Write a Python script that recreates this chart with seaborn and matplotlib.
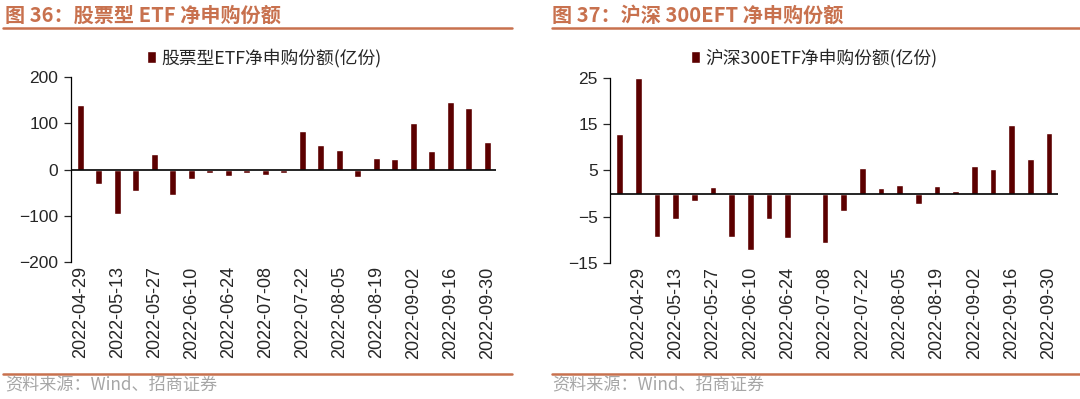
import matplotlib
matplotlib.use("Agg")
import matplotlib.pyplot as plt
from matplotlib.lines import Line2D
import seaborn as sns

# Data
dates_etf = ["2022-04-29", "2022-05-06", "2022-05-13", "2022-05-20", "2022-05-27", "2022-06-03",
             "2022-06-10", "2022-06-17", "2022-06-24", "2022-07-01", "2022-07-08", "2022-07-15",
             "2022-07-22", "2022-07-29", "2022-08-05", "2022-08-12", "2022-08-19", "2022-08-26",
             "2022-09-02", "2022-09-09", "2022-09-16", "2022-09-23", "2022-09-30"]
etf_net = [139, -32, -96, -47, 34, -56, -21, -8, -14, -8, -11, -8,
           84, 53, 42, -17, 26, 22, 100, 40, 147, 134, 59]

dates_300 = ["2022-04-22"] + dates_etf
hs300_net = [12.8, 25.0, -9.3, -5.4, -1.6, 1.4, -9.5, -12.3, -5.6, -9.7, -0.2, -10.7,
             -3.7, 5.6, 1.2, 1.9, -2.2, 1.6, 0.6, 6.0, 5.2, 14.7, 7.5, 13.0]

title_left = "图 36：股票型 ETF 净申购份额"
title_right = "图 37：沪深 300EFT 净申购份额"
legend_left = "股票型ETF净申购份额(亿份)"
legend_right = "沪深300ETF净申购份额(亿份)"
source = "资料来源：Wind、招商证券"

sns.set_style("white")
plt.rcParams['font.family'] = ['Noto Sans CJK SC', 'DejaVu Sans']

bar_color = "#5C0000"
accent = "#C8714E"

fig = plt.figure(figsize=(10.8, 3.99), dpi=100)
ax1 = fig.add_axes([0.0657, 0.343, 0.394, 0.464])
ax2 = fig.add_axes([0.565, 0.341, 0.415, 0.464])


def draw(ax, dates, vals, label, ylim, yticks, label_offset, legend_x):
    sns.barplot(x=dates, y=vals, color=bar_color, width=0.36, saturation=1,
                ax=ax, label=label)
    ax.set_xlim(-0.5, len(dates) - 0.5)
    ax.set_ylim(*ylim)
    ax.set_yticks(yticks)
    ax.set_xticks(range(label_offset, len(dates), 2))
    ax.set_xticklabels(dates[label_offset::2], rotation=90, fontsize=13,
                       family='Liberation Sans')
    for t in ax.get_yticklabels():
        t.set_fontsize(12.5)
        t.set_family('Liberation Sans')
    ax.axhline(0, color='black', lw=1.2)
    for s in ['top', 'right', 'bottom']:
        ax.spines[s].set_visible(False)
    ax.spines['left'].set_color('black')
    ax.spines['left'].set_linewidth(0.9)
    ax.tick_params(axis='y', direction='out', length=5, width=0.9, left=True, pad=4)
    ax.tick_params(axis='x', length=0, pad=3)
    ax.set_xlabel("")
    ax.set_ylabel("")
    ax.legend(loc='center', bbox_to_anchor=(legend_x, 0.855), bbox_transform=fig.transFigure,
              frameon=False, fontsize=12.8, handlelength=0.5, handleheight=0.6,
              handletextpad=0.3)


draw(ax1, dates_etf, etf_net, legend_left, (-200, 200), [-200, -100, 0, 100, 200], 0, 0.245)
draw(ax2, dates_300, hs300_net, legend_right, (-15, 25), [-15, -5, 5, 15, 25], 1, 0.754)

# Titles and decorative rules
fig.text(0.005, 0.962, title_left, color=accent, fontsize=14.5, fontweight='bold',
         va='center', ha='left')
fig.text(0.511, 0.962, title_right, color=accent, fontsize=14.5, fontweight='bold',
         va='center', ha='left')
for x0, x1 in [(0.003, 0.474), (0.511, 1.0)]:
    fig.add_artist(Line2D([x0, x1], [0.931, 0.931], color=accent, lw=1.8,
                          transform=fig.transFigure))
    fig.add_artist(Line2D([x0, x1], [0.063, 0.063], color=accent, lw=1.8,
                          transform=fig.transFigure))
fig.text(0.005, 0.033, source, color='#A6A6A6', fontsize=12.3, va='center', ha='left')
fig.text(0.511, 0.033, source, color='#A6A6A6', fontsize=12.3, va='center', ha='left')

plt.savefig('out.png', dpi=100)
